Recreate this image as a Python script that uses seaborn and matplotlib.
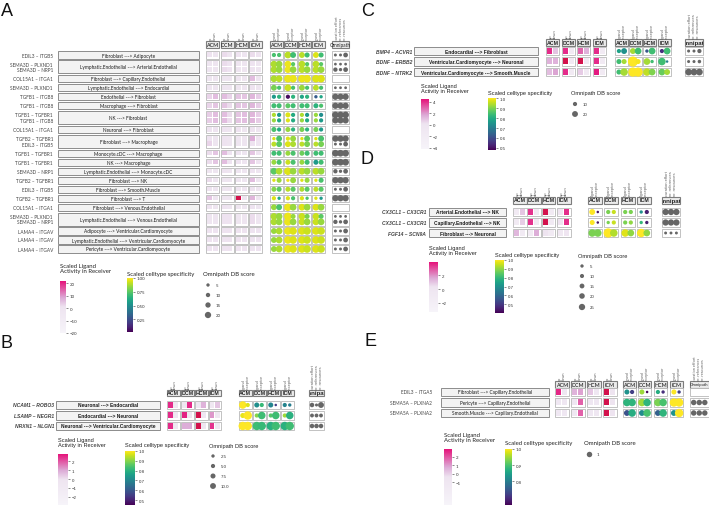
import numpy as np
import pandas as pd
import matplotlib
matplotlib.use("Agg")
import matplotlib.pyplot as plt
from matplotlib.patches import Rectangle
from matplotlib.colors import LinearSegmentedColormap, Normalize
from matplotlib.cm import ScalarMappable
from matplotlib.transforms import Bbox
import seaborn as sns

W, H = 709, 506
groups = ["ACM", "DCM", "HCM", "ICM"]

# ---------------- panel A data (one entry per ligand-receptor sub-row)
a_paths = ["Fibroblast ---> Adipocyte",
           "Lymphatic.Endothelial ---> Arterial.Endothelial",
           "Fibroblast ---> Capillary.Endothelial",
           "Lymphatic.Endothelial ---> Endocardial",
           "Endothelial ---> Fibroblast",
           "Macrophage ---> Fibroblast",
           "NK ---> Fibroblast",
           "Neuronal ---> Fibroblast",
           "Fibroblast ---> Macrophage",
           "Monocyte.cDC ---> Macrophage",
           "NK ---> Macrophage",
           "Lymphatic.Endothelial ---> Monocyte.cDC",
           "Fibroblast ---> NK",
           "Fibroblast ---> Smooth.Muscle",
           "Fibroblast ---> T",
           "Fibroblast ---> Venous.Endothelial",
           "Lymphatic.Endothelial ---> Venous.Endothelial",
           "Adipocyte ---> Ventricular.Cardiomyocyte",
           "Lymphatic.Endothelial ---> Ventricular.Cardiomyocyte",
           "Pericyte ---> Ventricular.Cardiomyocyte"]
a_pairs = [["EDIL3 – ITGB5"], ["SEMA3D – PLXND1", "SEMA3D – NRP1"], ["COL15A1 – ITGA1"],
           ["SEMA3D – PLXND1"], ["TGFB1 – ITGB8"], ["TGFB1 – ITGB8"],
           ["TGFB1 – TGFBR1", "TGFB1 – ITGB8"], ["COL15A1 – ITGA1"],
           ["TGFB2 – TGFBR1", "EDIL3 – ITGB5"], ["TGFB1 – TGFBR1"], ["TGFB1 – TGFBR1"],
           ["SEMA3D – NRP1"], ["TGFB2 – TGFBR1"], ["EDIL3 – ITGB5"], ["TGFB2 – TGFBR1"],
           ["COL15A1 – ITGA1"], ["SEMA3D – PLXND1", "SEMA3D – NRP1"],
           ["LAMA4 – ITGAV"], ["LAMA4 – ITGAV"], ["LAMA4 – ITGAV"]]
# activity: ACM up/down, DCM up/down, HCM up/down, ICM up/down
a_act = [[1, 0, 2, 0, 1, 0, 2, 1],
         [0, 0, 2, 1, 0, 0, 1, 0], [0, 0, 2, 1, 0, 0, 1, 0],
         [0, 0, 0, 0, 0, 0, 6, 0],
         [0, 0, 0, 0, 0, 0, 1, 0],
         [3, 6, 6, 3, 5, 5, 7, 4],
         [3, 5, 5, 2, 5, 5, 7, 4],
         [4, 6, 6, 2, 5, 6, 7, 4], [4, 6, 6, 2, 5, 6, 7, 4],
         [1, 1, 1, 0, 1, 0, 1, 0],
         [1, 0, 1, 0, 0, 0, 8, 1], [3, 0, 1, 0, 0, 0, 1, 0],
         [2, 5, 6, 1, 1, 0, 5, 1],
         [2, 5, 6, 1, 1, 0, 5, 1],
         [0, 0, 1, 0, 0, 0, 1, 0],
         [2, 0, 0, 0, 0, 0, 6, 0],
         [1, 0, 0, 0, 0, 0, 1, 0],
         [5, 0, 0, 0, 24, 0, 7, 0],
         [1, 0, 1, 0, 0, 0, 1, 0],
         [0, 0, 1, 1, 0, 0, 2, 0], [0, 0, 1, 1, 0, 0, 2, 0],
         [1, 1, 1, 1, 1, 1, 1, 1],
         [1, 1, 1, 1, 1, 1, 1, 1],
         [1, 1, 1, 1, 1, 1, 1, 1]]
# specificity: ligand/receptor per condition
a_spec = [[0.72, 0.72, 0.90, 0.70, 0.90, 0.70, 0.95, 0.70],
          [0.88, 0.85, 0.97, 0.75, 0.90, 0.75, 0.90, 0.75],
          [0.88, 0.85, 0.97, 0.85, 0.90, 0.85, 0.90, 0.85],
          [0.88, 0.90, 0.97, 0.97, 0.97, 0.97, 0.95, 0.95],
          [0.80, 0.72, 0.92, 0.72, 0.85, 0.72, 0.90, 0.72],
          [0.55, 0.65, 0.05, 0.65, 0.60, 0.65, 0.30, 0.60],
          [0.70, 0.70, 0.75, 0.70, 0.70, 0.70, 0.65, 0.72],
          [0.88, 0.55, 0.95, 0.62, 0.88, 0.55, 0.85, 0.50],
          [0.85, 0.60, 0.95, 0.62, 0.85, 0.62, 0.85, 0.55],
          [0.72, 0.62, 0.85, 0.65, 0.80, 0.65, 0.80, 0.55],
          [0.95, 0.72, 0.95, 0.85, 0.95, 0.75, 0.95, 0.72],
          [0.90, 0.75, 0.95, 0.88, 0.90, 0.80, 0.90, 0.80],
          [0.70, 0.70, 0.85, 0.72, 0.78, 0.70, 0.70, 0.70],
          [0.85, 0.72, 0.92, 0.72, 0.85, 0.70, 0.55, 0.70],
          [0.75, 0.88, 0.95, 0.85, 0.90, 0.85, 0.90, 0.85],
          [0.95, 0.85, 0.97, 0.85, 0.95, 0.85, 0.95, 0.72],
          [0.82, 0.75, 0.90, 0.75, 0.88, 0.75, 0.90, 0.75],
          [0.95, 0.60, 0.95, 0.72, 0.95, 0.72, 0.95, 0.55],
          [0.85, 0.72, 0.97, 0.85, 0.95, 0.85, 0.95, 0.85],
          [0.88, 0.85, 0.97, 0.85, 0.92, 0.80, 0.92, 0.75],
          [0.88, 0.85, 0.97, 0.85, 0.92, 0.85, 0.92, 0.85],
          [0.85, 0.88, 0.97, 0.95, 0.95, 0.92, 0.95, 0.92],
          [0.85, 0.88, 0.97, 0.95, 0.95, 0.92, 0.95, 0.92],
          [0.85, 0.88, 0.97, 0.95, 0.95, 0.92, 0.95, 0.92]]
a_spec_size = [[5, 5, 8, 7, 7, 6, 7, 6],
               [8, 8, 8, 5, 8, 5, 8, 5], [8, 8, 8, 8, 8, 8, 8, 8],
               [8, 8, 9, 9, 9, 9, 9, 9],
               [7, 5, 8, 5, 7, 5, 7, 5],
               [5, 5, 5, 5, 5, 5, 4, 4],
               [6, 6, 6, 6, 6, 6, 6, 5],
               [5, 5, 6, 5, 5, 5, 5, 5], [5, 5, 5, 5, 5, 5, 5, 5],
               [6, 5, 6, 5, 6, 5, 6, 5],
               [4, 7, 5, 7, 4, 7, 4, 7], [6, 7, 7, 7, 6, 7, 6, 7],
               [6, 6, 6, 6, 6, 6, 6, 6],
               [6, 6, 6, 6, 6, 6, 6, 6],
               [8, 8, 9, 8, 8, 8, 8, 8],
               [4, 6, 4, 7, 4, 6, 4, 6],
               [6, 6, 6, 6, 6, 6, 6, 6],
               [5, 4, 5, 5, 5, 4, 4, 4],
               [7, 7, 9, 8, 8, 8, 8, 8],
               [8, 8, 9, 6, 8, 6, 8, 6], [8, 8, 9, 8, 8, 8, 8, 8],
               [7, 8, 9, 9, 9, 9, 9, 9],
               [7, 8, 9, 9, 9, 9, 9, 9],
               [7, 8, 9, 9, 9, 9, 9, 9]]
# omnipath: curation effort, nr. references, nr. resources
a_omni = [[3, 3, 12], [2, 2, 2], [10, 5, 12], None, [2, 2, 2],
          [20, 20, 20], [20, 20, 20], [22, 22, 22], [20, 20, 20], None,
          [20, 20, 20], [3, 3, 12], [22, 22, 22], [22, 22, 22], [10, 5, 12],
          [20, 20, 20], [3, 3, 12], [20, 20, 20], None, [2, 2, 2], [10, 5, 12],
          [3, 3, 12], [3, 3, 12], [3, 3, 12]]

# ---------------- panel B data
b_paths = ["Neuronal ---> Endocardial", "Endocardial ---> Neuronal",
           "Neuronal ---> Ventricular.Cardiomyocyte"]
b_pairs = [["NCAM1 – ROBO3"], ["LSAMP – NEGR1"], ["NRXN1 – NLGN1"]]
b_act = [[2.5, -0.5, -0.5, 2.5, -0.5, 0.8, -0.5, 0.5],
         [2.5, -0.5, 2.6, -0.5, 3.5, -0.5, 1.2, -0.5],
         [2.5, -0.5, 0.9, 0.9, 2.9, -0.5, 2.4, -0.5]]
b_spec = [[1.00, 0.97, 0.72, 0.82, 0.70, 0.55, 0.70, 0.68],
          [0.98, 1.00, 0.90, 0.83, 0.85, 0.83, 0.92, 0.80],
          [1.00, 1.00, 0.83, 0.82, 0.80, 0.83, 0.80, 0.83]]
b_spec_size = [[9, 5, 6, 5, 6, 3, 5, 4],
               [6, 10, 5, 9, 5, 9, 5, 9],
               [10, 10, 10, 10, 10, 10, 10, 10]]
b_omni = [[6, 1.5, 10], [4, 4, 4], [6, 6, 6]]

# ---------------- panel C data
c_paths = ["Endocardial ---> Fibroblast", "Ventricular.Cardiomyocyte ---> Neuronal",
           "Ventricular.Cardiomyocyte ---> Smooth.Muscle"]
c_pairs = [["BMP4 – ACVR1"], ["BDNF – ERBB2"], ["BDNF – NTRK2"]]
c_act = [[4.0, 1.0, 4.0, -1.5, 3.0, 1.5, 4.0, -1.5],
         [1.5, 1.5, 4.8, -1.5, 5.0, -1.5, 4.0, -1.5],
         [1.2, 1.8, 4.0, -1.5, 0.8, -1.5, 4.3, -1.5]]
c_spec = [[0.78, 0.74, 0.93, 0.84, 0.62, 0.84, 0.55, 0.84],
          [0.84, 0.93, 1.00, 0.99, 0.93, 0.84, 0.84, 0.70],
          [0.84, 0.93, 1.00, 1.00, 0.95, 0.90, 0.88, 0.93]]
c_spec_size = [[5, 7, 7, 8, 4, 8, 5, 8],
               [6, 6, 12, 6, 8, 4, 9, 3],
               [6, 9, 11, 11, 9, 8, 8, 7]]
c_omni = [[3, 3, 10], [3, 3, 6], [25, 25, 25]]

# ---------------- panel D data
d_paths = ["Arterial.Endothelial ---> NK", "Capillary.Endothelial ---> NK",
           "Fibroblast ---> Neuronal"]
d_pairs = [["CX3CL1 – CX3CR1"], ["CX3CL1 – CX3CR1"], ["FGF14 – SCN9A"]]
d_act = [[-1.0, 1.0, 3.4, -1.0, 4.2, -1.0, 0.0, 3.5],
         [-1.0, 0.8, 3.4, -1.0, 4.2, -1.0, 0.3, 3.5],
         [1.3, -1.0, -1.0, 1.5, 0.2, -1.0, -0.5, 0.0]]
d_spec = [[1.00, 0.43, 0.88, 0.95, 0.88, 0.88, 0.70, 0.45],
          [1.00, 0.43, 0.88, 0.95, 0.88, 0.90, 0.80, 0.45],
          [0.88, 0.88, 1.00, 0.93, 0.97, 0.90, 1.00, 0.90]]
d_spec_size = [[7, 3, 5, 5, 5, 5, 4, 5],
               [6, 3, 4, 5, 5, 5, 4, 4],
               [9, 9, 11, 9, 9, 8, 10, 8]]
d_omni = [[25, 25, 25], [25, 25, 25], [2, 2, 2]]

# ---------------- panel E data
e_paths = ["Fibroblast ---> Capillary.Endothelial", "Pericyte ---> Capillary.Endothelial",
           "Smooth.Muscle ---> Capillary.Endothelial"]
e_pairs = [["EDIL3 – ITGA5"], ["SEMA5A – PLXNA2"], ["SEMA5A – PLXNA2"]]
e_act = [[2.6, -1.0, 0.6, 0.9, 0.2, -1.0, 3.1, -0.5],
         [-1.0, -1.0, -1.0, 1.8, -1.0, -1.0, 3.1, -0.5],
         [-1.0, -1.0, -1.0, 1.8, -1.0, -1.0, 3.1, -0.5]]
e_spec = [[0.83, 0.72, 0.95, 0.66, 0.87, 0.70, 1.00, 0.72],
          [0.88, 0.88, 0.95, 0.88, 0.93, 0.90, 1.00, 1.00],
          [0.74, 0.87, 0.82, 0.90, 0.76, 0.88, 0.83, 1.00]]
e_spec_size = [[6, 5, 6, 3, 5, 4, 6, 4],
               [9, 9, 9, 9, 9, 9, 10, 10],
               [7, 9, 7, 9, 7, 9, 7, 10]]
e_omni = [None, [1, 1, 1], [1, 1, 1]]

# ---------------- style
sns.set_style("white")
plt.rcParams["font.family"] = ["Liberation Sans", "DejaVu Sans"]

act_cmap = LinearSegmentedColormap.from_list(
    "act", [(0, "#f6f4f9"), (0.5, "#eee4f0"), (0.68, "#dcaad6"),
            (0.85, "#e15aa5"), (1, "#e5127a")])
act_cmap.set_over("#d3124c")

thin = ["Lato", "DejaVu Sans"]
arial = ["Liberation Sans", "DejaVu Sans"]


def area(d):
    # dot diameter in pixels -> marker area in pt^2 (dpi 100), a bit shrunk
    return (d * 0.72 * 0.84) ** 2


def omni_d(s, m):
    s0, d0, s1, d1 = m
    return max(1.5, d0 + (s - s0) * (d1 - d0) / (s1 - s0))


def colorbar(fig, rect, cmap, rng, ticks, fmt, fam):
    x, y, w, h = rect
    cax = fig.add_axes([x / W, 1 - (y + h) / H, w / W, h / H])
    cb = fig.colorbar(ScalarMappable(norm=Normalize(*rng), cmap=cmap), cax=cax)
    cb.outline.set_visible(False)
    cb.set_ticks(ticks)
    cb.set_ticklabels([fmt.format(t).replace("-", "\u2212") for t in ticks])
    cax.tick_params(labelsize=3.2, length=1.2, width=0.4, pad=1.5,
                    colors="#333333")
    for t in cax.get_yticklabels():
        t.set_family(fam)


def draw_panel(fig, ax, pairs, paths, act, spec, spec_size, omni, L):
    fam = L["font"]
    act_norm = Normalize(*L["act_range"])
    ax.text(L["letter_xy"][0], L["letter_xy"][1], L["letter"], ha="left", va="top",
            fontsize=13, family=arial, color="#111111")

    # header boxes
    hy, hh = L["header_y"], L["header_h"]
    for g in range(4):
        for xs, w, lab in ((L["act_x"][g], L["act_w"], "up\ndown"),
                           (L["spec_x"][g], L["spec_w"], "ligand\nreceptor")):
            ax.add_patch(Rectangle((xs, hy - hh / 2), w, hh, fc="#ececec",
                                   ec="#7d7d7d", lw=0.8))
            ax.text(xs + w / 2, hy, groups[g], ha="center", va="center",
                    fontsize=L["fs_head"], fontweight=L["head_weight"], family=fam,
                    color="#222222")
            ax.text(xs + w / 2, hy - hh / 2 - 1.2, lab, rotation=90, ha="center",
                    va="bottom", multialignment="left", linespacing=1.0,
                    fontsize=L["fs_rot"], color="#666666", family=fam)
    ox, ow = L["omni_x"], L["omni_w"]
    ax.add_patch(Rectangle((ox, hy - hh / 2), ow, hh, fc="#ececec",
                           ec="#7d7d7d", lw=0.8))
    t = ax.text(ox + ow / 2, hy, "Omnipath", ha="center",
                va="center", fontsize=L["fs_omni"], fontweight=L["omni_weight"],
                family=fam, color="#222222")
    if L["omni_clip"]:
        # clip header text to its box (display pixels, y measured from bottom)
        t.set_clip_box(Bbox.from_extents(ox + 0.5, H - (hy + hh / 2),
                                         ox + ow - 0.5, H - (hy - hh / 2)))
        t.set_clip_on(True)
    ax.text(ox + ow / 2, hy - hh / 2 - 1.2,
            "curation effort\nnr. references\nnr. resources", rotation=90,
            ha="center", va="bottom", multialignment="left", linespacing=1.0,
            fontsize=L["fs_rot"], color="#666666", family=fam)

    # rows
    spec_rows, omni_rows = [], []
    top = L["row_top"]
    k = 0
    for i, path in enumerate(paths):
        n = len(pairs[i])
        h = L["h1"] if n == 1 else L["h2"]
        y0 = top + L["gap"] / 2
        hb = h - L["gap"]
        bx0, bx1 = L["box_x"]
        ax.add_patch(Rectangle((bx0, y0), bx1 - bx0, hb, fc="#f3f3f3",
                               ec="#8c8c8c", lw=0.7))
        ax.text((bx0 + bx1) / 2, top + h / 2, path, ha="center", va="center",
                fontsize=L["fs"], fontweight=L["weight"], family=fam,
                color="#1a1a1a")
        for g in range(4):
            ax.add_patch(Rectangle((L["act_x"][g], y0), L["act_w"], hb,
                                   fc="white", ec="#b8b8b8", lw=0.6))
            ax.add_patch(Rectangle((L["spec_x"][g], y0), L["spec_w"], hb,
                                   fc="white", ec="#b8b8b8", lw=0.6))
        ax.add_patch(Rectangle((ox, y0), ow, hb, fc="white",
                               ec="#b8b8b8", lw=0.6))
        sub_h = (hb - 2) / n
        cw = (L["act_w"] - 2) / 2
        for j in range(n):
            yc = y0 + 1 + sub_h * (j + 0.5)
            ax.text(L["label_x"], yc, pairs[i][j], ha="right", va="center",
                    fontsize=L["fs_pair"], style=L["pair_style"],
                    fontweight=L["weight"], family=fam, color="#444444")
            for g in range(4):
                for c in range(2):
                    v = act[k][2 * g + c]
                    ax.add_patch(Rectangle(
                        (L["act_x"][g] + 1 + c * cw, y0 + 1 + sub_h * j),
                        cw - 0.4, sub_h - 0.4, fc=act_cmap(act_norm(v)), ec="none"))
                    spec_rows.append({
                        "x": L["spec_x"][g] + L["spec_w"] * (0.3 + 0.4 * c),
                        "y": yc, "val": spec[k][2 * g + c],
                        "area": area(spec_size[k][2 * g + c])})
            if omni[k] is not None:
                for m in range(3):
                    omni_rows.append({
                        "x": ox + ow * (0.2 + 0.3 * m),
                        "y": yc, "area": area(omni_d(omni[k][m], L["omni_map"]))})
            k += 1
        top += h

    sdf = pd.DataFrame(spec_rows)
    sns.scatterplot(data=sdf, x="x", y="y", hue="val", palette="viridis",
                    hue_norm=L["spec_range"], size="area", sizes=(0, 1000),
                    size_norm=(0, 1000), linewidth=0, legend=False, ax=ax,
                    zorder=3)
    if omni_rows:
        odf = pd.DataFrame(omni_rows)
        sns.scatterplot(data=odf, x="x", y="y", color="#666666", size="area",
                        sizes=(0, 1000), size_norm=(0, 1000), linewidth=0,
                        legend=False, ax=ax, zorder=3)

    # legends
    lk = dict(ha="left", va="top", fontsize=L["fs_leg"], family=fam,
              color="#222222", linespacing=1.0)
    ax.text(*L["act_title"], "Scaled Ligand\nActivity in Receiver", **lk)
    ax.text(*L["spec_title"], "Scaled celltype specificity", **lk)
    ax.text(*L["omni_title"], "Omnipath DB score", **lk)
    colorbar(fig, L["act_cbar"], act_cmap, L["act_range"], L["act_ticks"], "{:g}", fam)
    colorbar(fig, L["spec_cbar"], "viridis", L["spec_range"], L["spec_ticks"],
             L["spec_fmt"], fam)
    ldf = pd.DataFrame({"x": [L["omni_leg_x"]] * len(L["omni_leg"]),
                        "y": list(L["omni_leg_y"]),
                        "area": [area(omni_d(s, L["omni_map"])) for s in L["omni_leg"]]})
    sns.scatterplot(data=ldf, x="x", y="y", color="#666666", size="area",
                    sizes=(0, 1000), size_norm=(0, 1000), linewidth=0,
                    legend=False, ax=ax, zorder=3)
    for s, yy in zip(L["omni_leg"], L["omni_leg_y"]):
        ax.text(L["omni_leg_x"] + 8, yy, L["omni_leg_fmt"].format(s), ha="left",
                va="center", fontsize=3.2, family=fam, color="#333333")


common_thin = dict(font=thin, weight="normal", omni_weight="normal",
                   head_weight="semibold", omni_clip=False,
                   pair_style="normal", fs=3.4, fs_pair=3.4, fs_head=3.8,
                   fs_omni=3.4, fs_rot=2.8, fs_leg=4.3)
common_bold = dict(font=arial, weight="bold", omni_weight="bold",
                   head_weight="bold", omni_clip=True,
                   pair_style="italic", fs=3.5, fs_pair=3.6, fs_head=3.8,
                   fs_omni=4.4, fs_rot=3.0, fs_leg=4.1)

LA = dict(common_thin, letter="A", letter_xy=(1, 3),
          label_x=53, box_x=(58, 199), act_x=(206, 220.5, 235, 249), act_w=13,
          spec_x=(270, 284, 298, 312), spec_w=13, omni_x=332, omni_w=17,
          header_y=45.3, header_h=7, row_top=51.5, h1=9, h2=14.75, gap=1.8,
          act_range=(-20, 22), act_ticks=(-20, -10, 0, 10, 20),
          spec_range=(0.02, 1.0), spec_ticks=(0.25, 0.5, 0.75, 1.0), spec_fmt="{:.2f}",
          omni_map=(5, 4, 20, 7.5), omni_leg=(5, 10, 15, 20), omni_leg_fmt="{:g}",
          act_title=(60, 264), act_cbar=(60, 282, 6, 52),
          spec_title=(127, 272), spec_cbar=(127, 279, 6, 54),
          omni_title=(203, 272), omni_leg_x=208, omni_leg_y=(286, 296, 306, 316))

LB = dict(common_bold, letter="B", letter_xy=(1, 335),
          label_x=54, box_x=(56, 160), act_x=(167, 181, 195, 208.5), act_w=12.5,
          spec_x=(239, 253, 267, 281), spec_w=12.5, omni_x=309, omni_w=15,
          header_y=394, header_h=6.5, row_top=400.75, h1=10.5, h2=0, gap=2.2,
          act_range=(-2.9, 2.8), act_ticks=(-2, -1, 0, 1, 2),
          spec_range=(0.45, 1.0), spec_ticks=(0.5, 0.6, 0.7, 0.8, 0.9, 1.0),
          spec_fmt="{:.1f}", omni_map=(2.5, 4, 10, 7), omni_leg=(2.5, 5, 7.5, 10),
          omni_leg_fmt="{:.1f}",
          act_title=(58, 438), act_cbar=(58, 455, 10, 51),
          spec_title=(125, 443), spec_cbar=(125, 452, 10, 54),
          omni_title=(209, 444), omni_leg_x=213, omni_leg_y=(457, 467, 477, 487))

LC = dict(common_bold, letter="C", letter_xy=(361, 3),
          label_x=412, box_x=(414, 538), act_x=(546, 562, 577, 593), act_w=13,
          spec_x=(615, 629, 643, 658), spec_w=13, omni_x=685, omni_w=18,
          header_y=43.5, header_h=7, row_top=46.8, h1=10.5, h2=0, gap=2.2,
          act_range=(-4.2, 4.5), act_ticks=(-4, -2, 0, 2, 4),
          spec_range=(0.48, 1.0), spec_ticks=(0.5, 0.6, 0.7, 0.8, 0.9, 1.0),
          spec_fmt="{:.1f}", omni_map=(10, 5, 20, 7), omni_leg=(10, 20),
          omni_leg_fmt="{:g}",
          act_title=(421, 84), act_cbar=(421, 100, 8, 50),
          spec_title=(488, 91), spec_cbar=(488, 99, 8, 52),
          omni_title=(571, 91), omni_leg_x=575, omni_leg_y=(105, 115))

LD = dict(common_bold, letter="D", letter_xy=(361, 151),
          label_x=426, box_x=(429, 506), act_x=(513, 527, 541.5, 557), act_w=13.5,
          spec_x=(588, 604, 621, 637), spec_w=14, omni_x=662, omni_w=18,
          header_y=201, header_h=7, row_top=207.75, h1=10.5, h2=0, gap=2.2,
          act_range=(-3.3, 3.9), act_ticks=(-2, 0, 2),
          spec_range=(0.4, 1.0), spec_ticks=(0.5, 0.6, 0.7, 0.8, 0.9, 1.0),
          spec_fmt="{:.1f}", omni_map=(5, 4, 25, 7.5), omni_leg=(5, 10, 15, 20, 25),
          omni_leg_fmt="{:g}",
          act_title=(429, 246), act_cbar=(429, 263, 9, 50),
          spec_title=(495, 253), spec_cbar=(495, 261, 9, 53),
          omni_title=(578, 254), omni_leg_x=582, omni_leg_y=(267, 277, 287, 297, 308))

LE = dict(common_thin, letter="E", letter_xy=(364, 333),
          label_x=432, box_x=(441, 549), act_x=(555, 571, 587, 603), act_w=13.5,
          spec_x=(623, 638, 654, 670), spec_w=13, omni_x=690, omni_w=18.5,
          header_y=385.5, header_h=7, row_top=387.75, h1=10.5, h2=0, gap=2.2,
          act_range=(-3.7, 2.9), act_ticks=(-1, 0, 1, 2),
          spec_range=(0.655, 1.0), spec_ticks=(0.8, 0.9, 1.0), spec_fmt="{:.1f}",
          omni_map=(0, 5.5, 1, 6.5), omni_leg=(1,), omni_leg_fmt="{:g}",
          act_title=(444, 433), act_cbar=(444, 450, 8, 56),
          spec_title=(505, 441), spec_cbar=(505, 450, 7, 56),
          omni_title=(584, 441), omni_leg_x=589, omni_leg_y=(455,))
LE["fs_omni"] = 3.1

fig = plt.figure(figsize=(W / 100, H / 100), dpi=100)
ax = fig.add_axes([0, 0, 1, 1])

draw_panel(fig, ax, a_pairs, a_paths, a_act, a_spec, a_spec_size, a_omni, LA)
draw_panel(fig, ax, b_pairs, b_paths, b_act, b_spec, b_spec_size, b_omni, LB)
draw_panel(fig, ax, c_pairs, c_paths, c_act, c_spec, c_spec_size, c_omni, LC)
draw_panel(fig, ax, d_pairs, d_paths, d_act, d_spec, d_spec_size, d_omni, LD)
draw_panel(fig, ax, e_pairs, e_paths, e_act, e_spec, e_spec_size, e_omni, LE)

ax.set_xlim(0, W)
ax.set_ylim(H, 0)
ax.axis("off")

fig.savefig("out.png", dpi=100, facecolor="white")
